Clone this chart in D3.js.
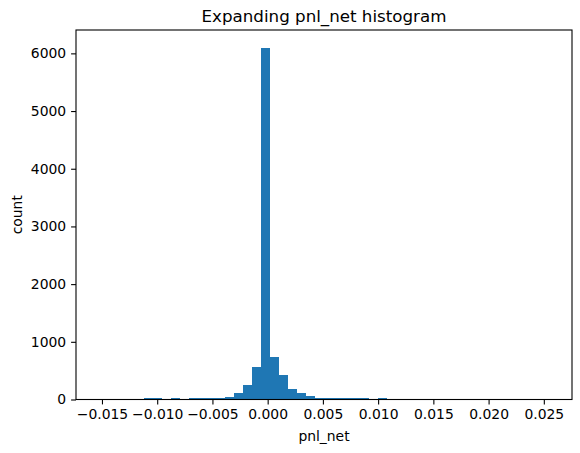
<!DOCTYPE html>
<html>
<head>
<meta charset="utf-8">
<script src="https://cdn.jsdelivr.net/npm/d3@7/dist/d3.min.js"></script>
<style>
  body { margin: 0; background: #fff; }
  svg { display: block; font-family: "DejaVu Sans", sans-serif; }
</style>
</head>
<body>
<svg id="chart" width="580" height="453"></svg>
<script>
// ---- data ----
const title = "Expanding pnl_net histogram";
const xLabel = "pnl_net";
const yLabel = "count";
const dataMin = -0.01531;
const dataMax = 0.02551;
const binCounts = [
  1, 0, 0, 0, 0, 22, 22, 0, 21, 0,
  21, 22, 28, 30, 45, 115, 255, 570, 6100, 745,
  430, 185, 115, 65, 22, 21, 21, 21, 21, 21,
  0, 21, 0, 0, 0, 0, 0, 0, 0, 0,
  0, 0, 0, 0, 0, 0, 0, 0, 0, 1
];
const xTicks = [-0.015, -0.010, -0.005, 0.000, 0.005, 0.010, 0.015, 0.020, 0.025];
const yTicks = [0, 1000, 2000, 3000, 4000, 5000, 6000];

// ---- layout ----
const svg = d3.select("#chart");
const margin = { left: 76, top: 30, right: 8, bottom: 53.5 };
const W = 580 - margin.left - margin.right;
const H = 453 - margin.top - margin.bottom;
const g = svg.append("g").attr("transform", `translate(${margin.left},${margin.top})`);

const nBins = binCounts.length;
const binW = (dataMax - dataMin) / nBins;
const bins = binCounts.map((c, i) => ({ x0: dataMin + i * binW, x1: dataMin + (i + 1) * binW, count: c }));

const span = dataMax - dataMin;
const x = d3.scaleLinear().domain([dataMin - 0.05 * span, dataMax + 0.05 * span]).range([0, W]);
const yMax = d3.max(binCounts) * 1.05;
const y = d3.scaleLinear().domain([0, yMax]).range([H, 0]);

g.selectAll("rect.bar").data(bins.filter(d => d.count > 0)).join("rect")
  .attr("class", "bar")
  .attr("x", d => x(d.x0))
  .attr("width", d => x(d.x1) - x(d.x0))
  .attr("y", d => y(d.count))
  .attr("height", d => H - y(d.count))
  .attr("fill", "#1f77b4")
  .attr("shape-rendering", "crispEdges");

const fs = 13.9;
const xAxis = d3.axisBottom(x).tickValues(xTicks).tickFormat(d3.format(".3f")).tickSizeInner(4.9).tickSizeOuter(0).tickPadding(4.9);
const yAxis = d3.axisLeft(y).tickValues(yTicks).tickFormat(d3.format("d")).tickSizeInner(4.9).tickSizeOuter(0).tickPadding(4.9);

const gx = g.append("g").attr("transform", `translate(0,${H})`).call(xAxis);
const gy = g.append("g").call(yAxis);
[gx, gy].forEach(a => {
  a.select(".domain").remove();
  a.selectAll("line").attr("stroke", "#000").attr("stroke-width", 1.1);
  a.selectAll("text").attr("font-size", fs).attr("fill", "#000").attr("font-family", "DejaVu Sans, sans-serif");
});

// spines
g.append("rect").attr("x", 0).attr("y", 0).attr("width", W).attr("height", H)
  .attr("fill", "none").attr("stroke", "#000").attr("stroke-width", 1.1);

// labels
g.append("text").attr("x", W / 2).attr("y", -8.3).attr("text-anchor", "middle")
  .attr("font-size", 16.7).attr("fill", "#000").text(title);
g.append("text").attr("x", W / 2).attr("y", H + 41.5).attr("text-anchor", "middle")
  .attr("font-size", fs).attr("fill", "#000").text(xLabel);
g.append("text").attr("transform", `translate(${-54},${H / 2}) rotate(-90)`).attr("text-anchor", "middle")
  .attr("font-size", fs).attr("fill", "#000").text(yLabel);
</script>
</body>
</html>
